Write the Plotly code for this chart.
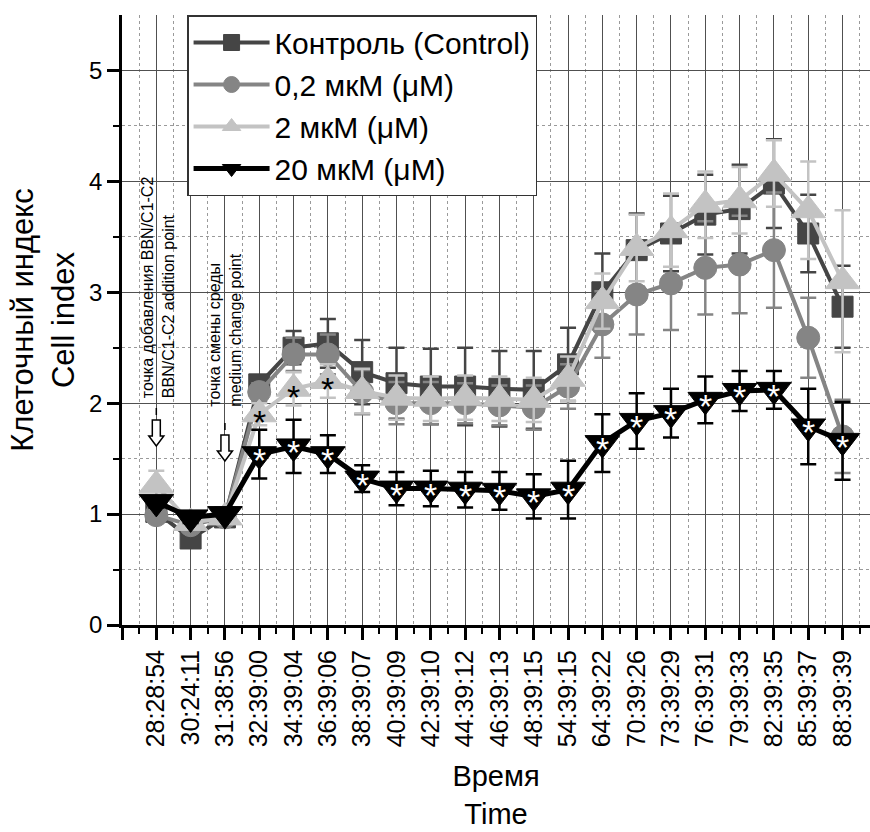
import plotly.graph_objects as go

# ---------------- data ----------------
categories = ["28:28:54", "30:24:11", "31:38:56", "32:39:00", "34:39:04", "36:39:06",
              "38:39:07", "40:39:09", "42:39:10", "44:39:12", "46:39:13", "48:39:15",
              "54:39:15", "64:39:22", "70:39:26", "73:39:29", "76:39:31", "79:39:33",
              "82:39:35", "85:39:37", "88:39:39"]

control = [1.02, 0.78, 0.97, 2.17, 2.50, 2.54, 2.28, 2.18, 2.15, 2.15, 2.13, 2.12,
           2.35, 3.00, 3.38, 3.53, 3.70, 3.75, 3.98, 3.53, 2.87]
control_err = [0.05, 0.05, 0.03, 0.08, 0.15, 0.22, 0.29, 0.32, 0.34, 0.35, 0.34, 0.35,
               0.33, 0.35, 0.33, 0.34, 0.36, 0.40, 0.40, 0.35, 0.37]

c02 = [0.99, 0.90, 0.97, 2.10, 2.44, 2.44, 2.10, 2.00, 2.00, 2.00, 1.98, 1.96,
       2.15, 2.71, 2.98, 3.08, 3.22, 3.25, 3.38, 2.59, 1.70]
c02_err = [0.04, 0.05, 0.03, 0.08, 0.15, 0.18, 0.20, 0.19, 0.19, 0.18, 0.18, 0.20,
           0.20, 0.30, 0.36, 0.42, 0.42, 0.44, 0.52, 0.36, 0.33]

c2 = [1.26, 0.92, 0.97, 1.90, 2.13, 2.20, 2.11, 2.05, 2.04, 2.05, 2.04, 2.03,
      2.22, 2.92, 3.40, 3.56, 3.79, 3.83, 4.07, 3.74, 3.10]
c2_err = [0.13, 0.05, 0.03, 0.10, 0.15, 0.15, 0.20, 0.20, 0.20, 0.20, 0.20, 0.20,
          0.20, 0.25, 0.30, 0.33, 0.30, 0.30, 0.30, 0.44, 0.64]

c20 = [1.11, 0.97, 1.00, 1.54, 1.61, 1.54, 1.32, 1.23, 1.23, 1.22, 1.21, 1.16,
       1.22, 1.64, 1.84, 1.91, 2.03, 2.11, 2.12, 1.79, 1.66]
c20_err = [0.05, 0.05, 0.03, 0.22, 0.24, 0.17, 0.12, 0.15, 0.16, 0.16, 0.17, 0.20,
           0.26, 0.26, 0.25, 0.22, 0.21, 0.18, 0.17, 0.34, 0.35]

# significance marks (1 = asterisk)
star_c2 = [0, 0, 0, 1, 1, 1, 0, 0, 0, 0, 0, 0, 0, 0, 0, 0, 0, 0, 0, 0, 0]
star_c20 = [0, 0, 0, 1, 1, 1, 1, 1, 1, 1, 1, 1, 1, 1, 1, 1, 1, 1, 1, 1, 1]

names = ["Контроль (Control)", "0,2 мкМ (μM)", "2 мкМ (μM)", "20 мкМ (μM)"]

# ---------------- figure ----------------
FONT = "Liberation Sans, Arial, sans-serif"
x = list(range(len(categories)))

series = [
    (control, control_err, names[0], "#454545", "square", 21, 4),
    (c02, c02_err, names[1], "#858585", "circle", 23, 4),
    (c2, c2_err, names[2], "#c3c3c3", "triangle-up", 30, 4),
    (c20, c20_err, names[3], "#000000", "triangle-down", 30, 5),
]

fig = go.Figure()
for vals, err, name, col, sym, size, lw in series:
    fig.add_trace(go.Scatter(
        x=x, y=vals, name=name, mode="lines+markers",
        line=dict(color=col, width=lw),
        marker=dict(symbol=sym, size=size, color=col, line=dict(color=col, width=1)),
        error_y=dict(type="data", array=err, visible=True, color=col, thickness=2.5, width=8),
    ))

annotations = []
for i, f in enumerate(star_c2):
    if f:
        annotations.append(dict(x=x[i], y=c2[i], text="*", showarrow=False,
                                font=dict(size=34, color="black", family=FONT), yshift=-8))
for i, f in enumerate(star_c20):
    if f:
        annotations.append(dict(x=x[i], y=c20[i], text="*", showarrow=False,
                                font=dict(size=34, color="white", family=FONT), yshift=-6))

# vertical notes
annotations.append(dict(x=0, y=2.03, xref="x", yref="y", text="точка добавления BBN/C1-C2<br>BBN/C1-C2 addition point",
                        textangle=-90, showarrow=False, align="left", xanchor="center", yanchor="bottom",
                        font=dict(size=16, color="black", family=FONT), xshift=2))
annotations.append(dict(x=2, y=1.95, xref="x", yref="y", text="точка смены среды<br>medium change point",
                        textangle=-90, showarrow=False, align="left", xanchor="center", yanchor="bottom",
                        font=dict(size=16, color="black", family=FONT), xshift=0))

arrow_path = "M0,0 L-7.5,10 L-4,10 L-4,26 L4,26 L4,10 L7.5,10 Z"
shapes = []
for ax_, ay_ in [(0, 1.614), (2, 1.479)]:
    shapes.append(dict(type="path", xref="x", yref="y", xsizemode="pixel", ysizemode="pixel",
                       xanchor=ax_, yanchor=ay_, path=arrow_path,
                       fillcolor="white", line=dict(color="black", width=1.5), layer="above"))
    shapes.append(dict(type="line", xref="x", yref="y", xsizemode="pixel", ysizemode="pixel",
                       xanchor=ax_, yanchor=ay_, x0=0, x1=0, y0=31, y1=38,
                       line=dict(color="black", width=1.5), layer="above"))

fig.update_layout(
    width=870, height=832,
    margin=dict(l=122, r=0, t=15, b=207, pad=0),
    plot_bgcolor="white", paper_bgcolor="white",
    font=dict(family=FONT, color="black"),
    showlegend=True,
    legend=dict(x=0.087, y=1, xanchor="left", yanchor="top", bgcolor="white",
                bordercolor="#333", borderwidth=1.5, font=dict(size=30, family=FONT),
                itemwidth=76, tracegroupgap=0),
    annotations=annotations,
    shapes=shapes,
    xaxis=dict(
        range=[-1, 20.8], tickmode="array", tickvals=[-1] + x, ticktext=[""] + categories,
        tickangle=-90, ticks="outside", ticklen=12, tickwidth=2.5, tickcolor="black",
        showline=True, linewidth=3, linecolor="black", zeroline=False,
        showgrid=True, gridcolor="#505050", gridwidth=1.2,
        tickfont=dict(size=25, family=FONT),
        minor=dict(tickmode="array", tickvals=[i + 0.5 for i in range(-1, len(categories))],
                   ticks="outside", ticklen=6, tickwidth=2, tickcolor="black",
                   showgrid=True, gridcolor="#9a9a9a", griddash="dot", gridwidth=1),
        title=dict(text="Время<br>Time", font=dict(size=29, family=FONT), standoff=20),
    ),
    yaxis=dict(
        range=[0, 5.5], tickmode="array", tickvals=[0, 1, 2, 3, 4, 5],
        ticks="outside", ticklen=12, tickwidth=2.5, tickcolor="black",
        showline=True, linewidth=2.5, linecolor="black", zeroline=False,
        showgrid=True, gridcolor="#505050", gridwidth=1.2,
        tickfont=dict(size=24, family=FONT),
        minor=dict(tickmode="array", tickvals=[0.5, 1.5, 2.5, 3.5, 4.5],
                   ticks="outside", ticklen=6, tickwidth=2, tickcolor="black",
                   showgrid=True, gridcolor="#9a9a9a", griddash="dot", gridwidth=1),
        title=dict(text="Клеточный индекс<br>Cell index", font=dict(size=31, family=FONT), standoff=6),
    ),
)

fig.write_html("out.html")
